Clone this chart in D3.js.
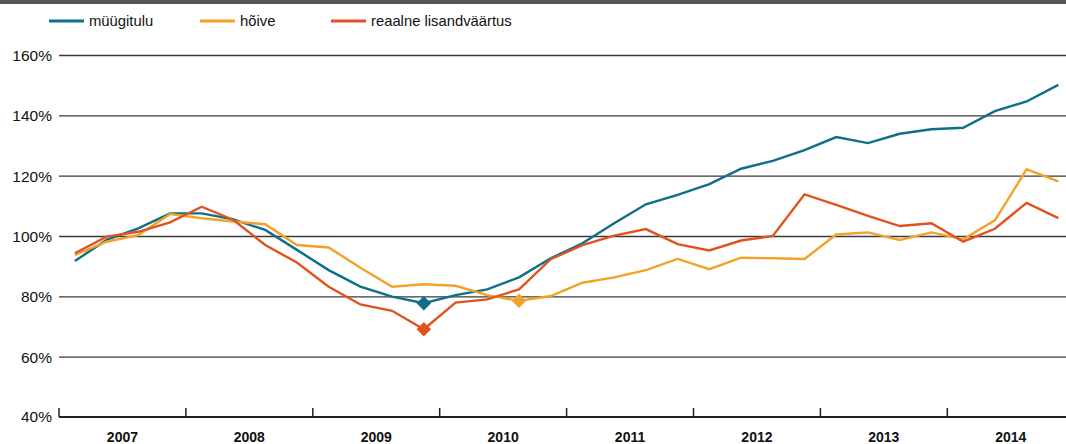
<!DOCTYPE html>
<html>
<head>
<meta charset="utf-8">
<script src="https://cdn.jsdelivr.net/npm/d3@7"></script>
<style>
  body { margin: 0; background: #fff; }
  text { font-family: "Liberation Sans", Arial, sans-serif; fill: #111; }
</style>
</head>
<body>
<div id="chart"></div>
<script>
// years on the axis, 4 quarters each
const years = [2007, 2008, 2009, 2010, 2011, 2012, 2013, 2014];
const yTicks = [40, 60, 80, 100, 120, 140, 160];

// values, % of base level, by quarter
const myygitulu = [91.7, 98.7, 102.5, 107.5, 107.5, 105.5, 102, 95.4,
  88.7, 83.2, 79.9, 77.7, 80.4, 82.3, 86.3, 92.6,
  97.6, 104.2, 110.5, 113.6, 117.2, 122.3, 124.9, 128.5,
  132.8, 130.8, 133.9, 135.4, 135.9, 141.4, 144.6, 150.1];
const hoive = [93.7, 98.1, 100.3, 107.3, 105.9, 104.8, 103.9, 97,
  96.2, 89.5, 83.2, 84, 83.5, 80.4, 78.5, 80.1,
  84.5, 86.3, 88.7, 92.4, 89, 92.8, 92.6, 92.4,
  100.5, 101.2, 98.7, 101.2, 98.9, 105.2, 122.1, 118.1];
const lisandvaartus = [94.3, 99.8, 101.4, 104.5, 109.7, 105.3, 97, 91.2,
  83.2, 77.3, 75.2, 69.1, 77.9, 79, 82.3, 92.3,
  97, 100.1, 102.3, 97.3, 95.2, 98.5, 100, 113.8,
  110.3, 106.7, 103.3, 104.2, 98.1, 102.4, 111, 105.9];

const seriesNames = ['müügitulu', 'hõive', 'reaalne lisandväärtus'];
const seriesColors = ['#0d6f88', '#f4a128', '#e0531e'];
// index of the quarter that gets a diamond marker
const minMarks = [11, 14, 11];

const series = [myygitulu, hoive, lisandvaartus];
const quarters = d3.range(years.length * 4);

const width = 1066;
const height = 444;
const margin = {left: 59, top: 55, bottom: 27};
const yearWidth = 126.9;

const svg = d3.select('#chart')
  .append('svg')
    .attr('width', width)
    .attr('height', height);

// dark strip at the top
svg.append('rect')
  .attr('x', 0).attr('y', 0)
  .attr('width', width).attr('height', 4)
  .attr('fill', '#555');

const xScale = d3.scaleBand()
  .domain(quarters)
  .range([margin.left, margin.left + yearWidth * years.length]);
const yearScale = d3.scaleBand()
  .domain(years)
  .range([margin.left, margin.left + yearWidth * years.length]);
const yScale = d3.scaleLinear()
  .domain([40, 160])
  .range([height - margin.bottom, margin.top]);

// gridlines + y labels
const yAxis = svg.append('g')
  .attr('transform', `translate(${margin.left},0)`)
  .call(d3.axisLeft(yScale).tickValues(yTicks.slice(1))
    .tickSize(-(width - margin.left)).tickFormat(d => d + '%').tickPadding(7));
yAxis.select('.domain').remove();
yAxis.selectAll('line').attr('stroke', '#3a3a3a').attr('stroke-width', 1.4);
yAxis.selectAll('text')
  .style('font-size', '15.5px')
  .attr('dy', '0.35em')
  .style('font-family', '"Liberation Sans", Arial, sans-serif');

// 40% label sits on the x axis
svg.append('text')
  .attr('x', margin.left - 7)
  .attr('y', yScale(40))
  .attr('dy', '0.35em')
  .attr('text-anchor', 'end')
  .style('font-size', '15.5px')
  .text(yTicks[0] + '%');

// x axis: ticks at year boundaries
const xAxis = svg.append('g');
xAxis.append('line')
  .attr('x1', margin.left).attr('x2', width)
  .attr('y1', yScale(40)).attr('y2', yScale(40))
  .attr('stroke', '#222').attr('stroke-width', 2);
xAxis.selectAll('.yr-tick')
  .data(years)
  .join('line')
    .attr('class', 'yr-tick')
    .attr('x1', d => yearScale(d)).attr('x2', d => yearScale(d))
    .attr('y1', yScale(40)).attr('y2', yScale(40) - 9)
    .attr('stroke', '#222').attr('stroke-width', 1.5);
xAxis.selectAll('.yr-label')
  .data(years)
  .join('text')
    .attr('class', 'yr-label')
    .attr('x', d => yearScale(d) + yearScale.bandwidth() / 2)
    .attr('y', 442)
    .attr('text-anchor', 'middle')
    .style('font-size', '14px')
    .style('font-weight', 700)
    .text(d => d);

// lines
const line = d3.line()
  .x((d, i) => xScale(i) + xScale.bandwidth() / 2)
  .y(d => yScale(d));

series.forEach((vals, s) => {
  svg.append('path')
    .datum(vals)
    .attr('fill', 'none')
    .attr('stroke', seriesColors[s])
    .attr('stroke-width', 2.4)
    .attr('stroke-linejoin', 'miter')
    .attr('d', line);
});

// diamond markers at the low points (square turned 45 degrees)
series.forEach((vals, s) => {
  const i = minMarks[s];
  svg.append('path')
    .attr('d', d3.symbol(d3.symbolSquare, 105)())
    .attr('transform', `translate(${xScale(i) + xScale.bandwidth() / 2},${yScale(vals[i])}) rotate(45)`)
    .attr('fill', seriesColors[s]);
});

// legend
const legendX = [49, 200, 331];
const legend = svg.append('g')
  .selectAll('g')
  .data(seriesNames)
  .join('g')
    .attr('transform', (d, i) => `translate(${legendX[i]},21)`);
legend.append('line')
  .attr('x1', 0).attr('x2', 35)
  .attr('stroke', (d, i) => seriesColors[i])
  .attr('stroke-width', 3);
legend.append('text')
  .attr('x', 40)
  .attr('dy', '0.35em')
  .style('font-size', '14.8px')
  .text(d => d);
</script>
</body>
</html>
